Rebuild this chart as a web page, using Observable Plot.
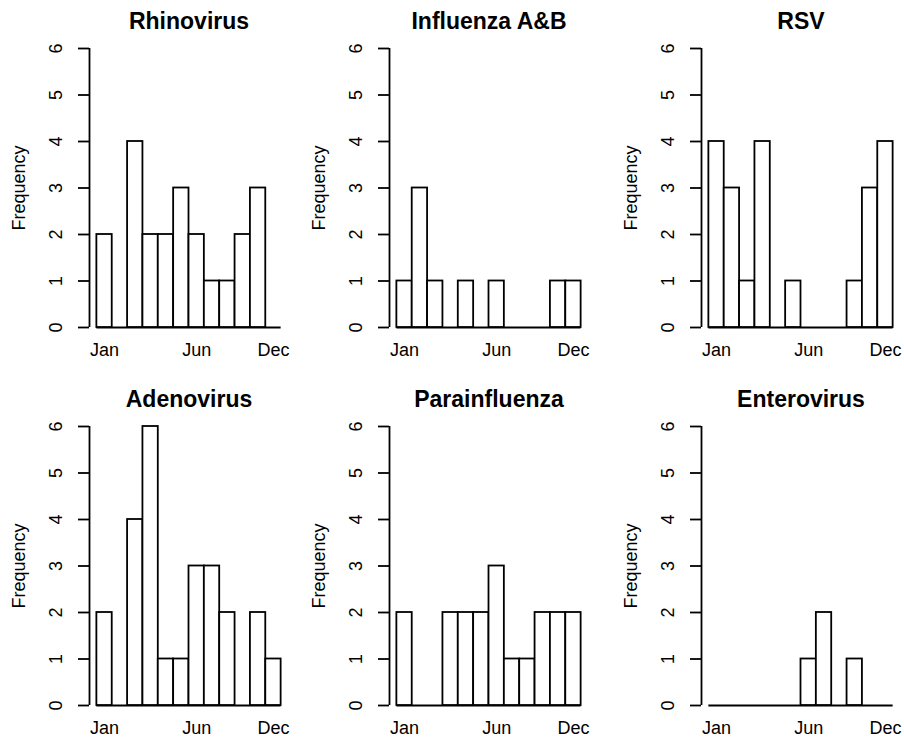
<!DOCTYPE html>
<html><head><meta charset="utf-8">
<script src="https://cdn.jsdelivr.net/npm/d3@7"></script>
<script src="https://cdn.jsdelivr.net/npm/@observablehq/plot@0.6"></script>
<style>
html,body{margin:0;padding:0;background:#fff;}
#chart{position:relative;width:904px;height:737px;background:#fff;overflow:hidden;}
.panel{position:absolute;width:300px;}
.panel svg{max-width:none !important;display:block;}
</style></head><body>
<div id="chart"></div>
<script>
// Panel titles
const viruses = ["Rhinovirus", "Influenza A&B", "RSV", "Adenovirus", "Parainfluenza", "Enterovirus"];
// Monthly counts (Jan..Dec bins)
const rhinovirus    = [2, 0, 4, 2, 2, 3, 2, 1, 1, 2, 3, 0];
const influenza     = [1, 3, 1, 0, 1, 0, 1, 0, 0, 0, 1, 1];
const rsv           = [4, 3, 1, 4, 0, 1, 0, 0, 0, 1, 3, 4];
const adenovirus    = [2, 0, 4, 6, 1, 1, 3, 3, 2, 0, 2, 1];
const parainfluenza = [2, 0, 0, 2, 2, 2, 3, 1, 1, 2, 2, 2];
const enterovirus   = [0, 0, 0, 0, 0, 0, 1, 2, 0, 1, 0, 0];
// Bin edges
const breaks = [0, 1, 2, 3, 4, 5, 6, 7, 8, 9, 10, 11, 12];
// Axis ticks
const xTickValues = [0.5, 6.5, 11.5];
const xTickLabels = ["Jan", "Jun", "Dec"];
const yTicks = [0, 1, 2, 3, 4, 5, 6];

const series = [rhinovirus, influenza, rsv, adenovirus, parainfluenza, enterovirus];
const positions = [[0, 0], [300, 0], [612, 0], [0, 378], [300, 378], [612, 378]];
const nb = breaks.length - 1;
const pad = 0.04 * (breaks[nb] - breaks[0]);
const xDomain = [breaks[0] - pad, breaks[nb] + pad];
const font = "'Liberation Sans', Arial, Helvetica, sans-serif";
const lw = 1.8;

const chart = document.getElementById("chart");
series.forEach((counts, i) => {
  const bins = counts.map((c, j) => ({x1: breaks[j], x2: breaks[j + 1], count: c}));
  const height = i >= 3 ? 359 : 368;
  const plot = Plot.plot({
    width: 300,
    height,
    marginLeft: 89,
    marginRight: 12,
    marginTop: 48,
    marginBottom: height - 48 - 279,
    x: {domain: xDomain, axis: null},
    y: {domain: [yTicks[0], yTicks[yTicks.length - 1]]},
    style: {fontFamily: font, background: "white", color: "black", overflow: "visible"},
    marks: [
      Plot.ruleX([xDomain[0]], {stroke: "black", strokeWidth: lw}),
      Plot.axisY({ticks: yTicks, tickSize: 11, tickFormat: () => "", label: null, stroke: "black", strokeWidth: lw}),
      Plot.text(yTicks, {y: d => d, text: d => String(d), frameAnchor: "left", dx: -33, rotate: -90,
        textAnchor: "middle", lineAnchor: "middle", fontSize: 18, fill: "black"}),
      Plot.ruleY([{y: 0, x1: breaks[0], x2: breaks[nb]}], {y: "y", x1: "x1", x2: "x2", stroke: "black", strokeWidth: lw}),
      Plot.rectY(bins.filter(b => b.count > 0), {x1: "x1", x2: "x2", y: "count", fill: "white", stroke: "black", strokeWidth: lw}),
      Plot.text(xTickValues, {x: d => d, text: (d, k) => xTickLabels[k], frameAnchor: "bottom", dy: 23,
        lineAnchor: "middle", fontSize: 18, fill: "black"}),
      Plot.text([viruses[i]], {text: d => d, frameAnchor: "top", dy: -26.4, lineAnchor: "middle",
        fontSize: 23, fontWeight: "bold", fill: "black"}),
      Plot.text(["Frequency"], {text: d => d, frameAnchor: "left", dx: -70, rotate: -90,
        textAnchor: "middle", lineAnchor: "middle", fontSize: 18, fill: "black"})
    ]
  });
  const div = document.createElement("div");
  div.className = "panel";
  div.style.left = positions[i][0] + "px";
  div.style.top = positions[i][1] + "px";
  div.appendChild(plot);
  chart.appendChild(div);
});
</script>
</body></html>
